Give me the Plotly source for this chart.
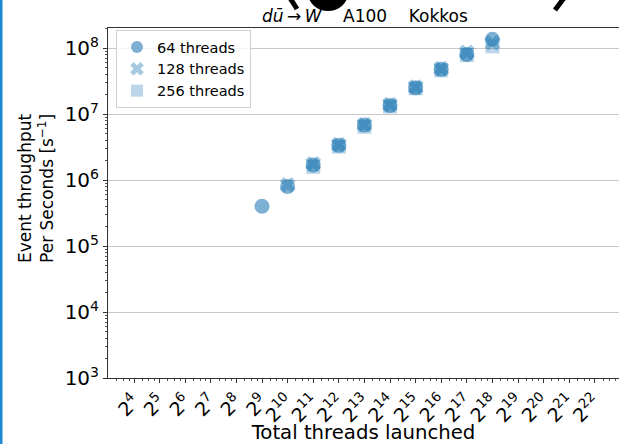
import numpy as np
import plotly.graph_objects as go

# Event throughput (events / s) vs total threads launched, Kokkos on A100
exp_64 = [9, 10, 11, 12, 13, 14, 15, 16, 17, 18]
thr_64 = [4.0e5, 8.0e5, 1.69e6, 3.36e6, 6.8e6, 1.35e7, 2.5e7, 4.75e7, 8.0e7, 1.36e8]

exp_128 = [10, 11, 12, 13, 14, 15, 16, 17, 18]
thr_128 = [8.4e5, 1.76e6, 3.42e6, 6.9e6, 1.38e7, 2.55e7, 4.85e7, 8.6e7, 1.2e8]

exp_256 = [11, 12, 13, 14, 15, 16, 17, 18]
thr_256 = [1.58e6, 3.2e6, 6.4e6, 1.3e7, 2.45e7, 4.6e7, 7.8e7, 1.06e8]

x_tick_exps = list(range(4, 23))
y_tick_exps = list(range(3, 9))

FONT = "DejaVu Sans"
W, H = 619, 444
L, R, T, B = 108, 0, 28, 66
PW, PH = W - L - R, H - T - B


def px_x(p):
    return (p - L) / PW


def px_y(p):
    return (H - B - p) / PH


fig = go.Figure()


def add_series(exps, vals, name, symbol, size, color):
    fig.add_trace(go.Scatter(
        x=[2.0 ** e for e in exps], y=vals, mode="markers", name=name,
        marker=dict(symbol=symbol, size=size, color=color, line=dict(width=0)),
    ))


add_series(exp_64, thr_64, "64 threads", "circle", 15, "rgba(31,119,180,0.58)")
add_series(exp_128, thr_128, "128 threads", "x", 14, "rgba(31,119,180,0.4)")
add_series(exp_256, thr_256, "256 threads", "square", 14, "rgba(31,119,180,0.3)")

# minor ticks on the base-2 axis
x_minor = [2.0 ** e * s for e in range(2, 23) for s in (1.25, 1.5, 1.75)]

fig.update_layout(
    width=W, height=H,
    margin=dict(l=L, r=R, t=T, b=B),
    paper_bgcolor="white", plot_bgcolor="white",
    font=dict(family=FONT, color="black"),
    showlegend=True,
    legend=dict(
        x=px_x(116), y=px_y(30), xanchor="left", yanchor="top",
        bgcolor="rgba(255,255,255,0.8)", bordercolor="#d0d0d0", borderwidth=1,
        font=dict(size=14.5, family=FONT), itemsizing="constant",
        tracegroupgap=0,
    ),
    xaxis=dict(
        type="log",
        range=[np.log10(2.0 ** 2.984), np.log10(2.0 ** 22.945)],
        tickmode="array",
        tickvals=[2.0 ** e for e in x_tick_exps],
        ticktext=[f"2<sup>{e}</sup>" for e in x_tick_exps],
        tickangle=-45, tickfont=dict(size=19, family=FONT),
        ticks="outside", ticklen=4, tickcolor="#333",
        showgrid=False, zeroline=False,
        showline=True, linecolor="#333", linewidth=1, mirror=True,
        minor=dict(tickmode="array", tickvals=x_minor, ticks="outside",
                   ticklen=2, tickcolor="#555", showgrid=False),
        title=dict(text="Total threads launched", font=dict(size=19.7, family=FONT),
                   standoff=2),
    ),
    yaxis=dict(
        type="log",
        range=[3, 3 + PH / 66],
        tickmode="array",
        tickvals=[10.0 ** e for e in y_tick_exps],
        ticktext=[f"10<sup>{e}</sup>" for e in y_tick_exps],
        tickfont=dict(size=20, family=FONT),
        ticks="outside", ticklen=4, tickcolor="#333",
        showgrid=True, gridcolor="#c8c8c8", gridwidth=1, zeroline=False,
        showline=True, linecolor="#333", linewidth=1, mirror=True,
        minor=dict(ticks="outside", ticklen=2, tickcolor="#555", showgrid=False,
                   dtick="D1"),
    ),
)

# Y-axis title, two lines
fig.add_annotation(
    xref="paper", yref="paper", x=px_x(36), y=px_y(189),
    xanchor="center", yanchor="middle", showarrow=False, textangle=-90,
    text="Event throughput<br>Per Seconds [s<sup>\u22121</sup>]",
    font=dict(size=17, family=FONT, color="black"),
)

# Heading above the axes
NB = "\u00a0" * 4
fig.add_annotation(
    xref="paper", yref="paper", x=px_x(365), y=1.0,
    xanchor="center", yanchor="bottom", yshift=0, showarrow=False,
    text=f"<i>d\u016b</i>\u2009\u2192\u2009<i>W</i>{NB}A100{NB}Kokkos",
    font=dict(size=17, family=FONT, color="black"),
)

# Blue page border on the left
fig.add_shape(type="line", xref="paper", yref="paper",
              x0=px_x(1), x1=px_x(1), y0=px_y(H), y1=px_y(0),
              line=dict(color="#1e88d0", width=3))

# Fragments of the large slide heading cut by the top edge
fig.add_shape(type="line", xref="paper", yref="paper",
              x0=px_x(290), y0=px_y(-2), x1=px_x(297), y1=px_y(9),
              line=dict(color="black", width=5))
fig.add_shape(type="circle", xref="paper", yref="paper",
              x0=px_x(308), x1=px_x(348), y0=px_y(11), y1=px_y(-25),
              fillcolor="black", line=dict(width=0))
fig.add_shape(type="line", xref="paper", yref="paper",
              x0=px_x(564), y0=px_y(-2), x1=px_x(555), y1=px_y(10),
              line=dict(color="black", width=5))

fig.write_html("out.html")
